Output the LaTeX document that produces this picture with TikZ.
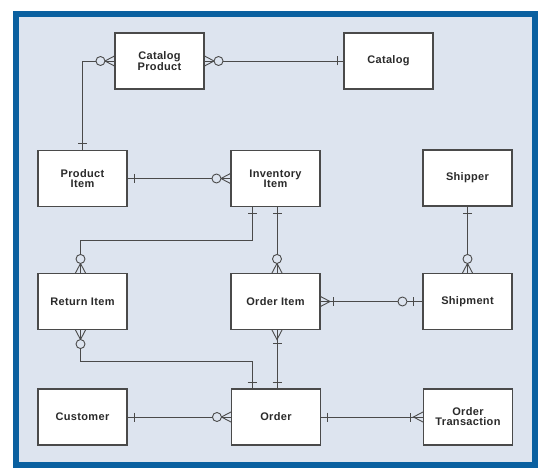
\documentclass[tikz,border=0pt]{standalone}
\usepackage{fontspec}
\setmainfont{Liberation Sans}[LetterSpace=3]
\definecolor{framec}{HTML}{0A60A0}
\definecolor{bgc}{HTML}{DDE4EF}
\definecolor{linec}{HTML}{4A4A4A}
\definecolor{textc}{HTML}{2A2A2A}
\tikzset{
  entity/.style={draw=linec, line width=1.1pt, fill=white, minimum width=89pt, minimum height=56pt, inner sep=0pt, align=center, font=\bfseries\fontsize{11}{10}\selectfont, text=textc},
  conn/.style={draw=linec, line width=0.9pt},
  erone/.pic={\draw[conn] (6.5,-4.5) -- (6.5,4.5);},
  erzmany/.pic={\draw[conn] (0,-5) -- (9.5,0) -- (0,5); \draw[conn, fill=bgc] (14,0) circle[radius=4.5];},
  eromany/.pic={\draw[conn] (0,-5) -- (9.5,0) -- (0,5); \draw[conn] (13,-4.5) -- (13,4.5);},
  erzone/.pic={\draw[conn] (9,-4.5) -- (9,4.5); \draw[conn, fill=bgc] (20,0) circle[radius=4.5];}
}
\begin{document}
\begin{tikzpicture}[x=1pt,y=-1pt]
\useasboundingbox (0,0) rectangle (552,476);
\fill[white] (0,0) rectangle (552,476);
\draw[framec, line width=6pt, fill=bgc] (16,14) rectangle (535,465);

\node[entity] (cp) at (159.5,61) {Catalog\\Product};
\node[entity] (cat) at (388.5,61) {Catalog};
\node[entity] (pi) at (82.5,178.5) {Product\\Item};
\node[entity] (inv) at (275.5,178.5) {Inventory\\Item};
\node[entity] (shipper) at (467.5,178) {Shipper};
\node[entity] (ret) at (82.5,301.5) {Return Item};
\node[entity] (oi) at (275.5,301.5) {Order Item};
\node[entity] (shipment) at (467.5,301.5) {Shipment};
\node[entity] (cust) at (82.5,417) {Customer};
\node[entity] (order) at (276,417) {Order};
\node[entity] (ot) at (468,417) {Order\\Transaction};

\coordinate (invA) at ([xshift=-23.5pt]inv.south);
\coordinate (invB) at ([xshift=1.5pt]inv.south);
\coordinate (retT) at ([xshift=-2pt]ret.north);
\coordinate (retB) at ([xshift=-2pt]ret.south);
\coordinate (oiT) at ([xshift=1.5pt]oi.north);
\coordinate (oiB) at ([xshift=1.5pt]oi.south);
\coordinate (ordA) at ([xshift=-24pt]order.north);
\coordinate (ordB) at ([xshift=1pt]order.north);
\coordinate (bendA) at (0,240);
\coordinate (bendB) at (0,361.5);

\draw[conn] (pi.north) |- (cp.west);
\draw[conn] (cp.east) -- (cat.west);
\draw[conn] (pi.east) -- (inv.west);
\draw[conn] (invA) -- (invA |- bendA) -| (retT);
\draw[conn] (invB) -- (oiT);
\draw[conn] (retB) -- (retB |- bendB) -| (ordA);
\draw[conn] (oiB) -- (ordB);
\draw[conn] (oi.east) -- (shipment.west);
\draw[conn] (shipper.south) -- (shipment.north);
\draw[conn] (cust.east) -- (order.west);
\draw[conn] (order.east) -- (ot.west);

\pic[rotate=90] at (pi.north) {erone};
\pic[rotate=180] at (cp.west) {erzmany};
\pic at (cp.east) {erzmany};
\pic[rotate=180] at (cat.west) {erone};
\pic at (pi.east) {erone};
\pic[rotate=180] at (inv.west) {erzmany};
\pic[rotate=-90] at (invA) {erone};
\pic[rotate=-90] at (invB) {erone};
\pic[rotate=90] at (retT) {erzmany};
\pic[rotate=90] at (oiT) {erzmany};
\pic[rotate=-90] at (retB) {erzmany};
\pic[rotate=90] at (ordA) {erone};
\pic[rotate=90] at (ordB) {erone};
\pic[rotate=-90] at (oiB) {eromany};
\pic at (oi.east) {eromany};
\pic[rotate=180] at (shipment.west) {erzone};
\pic[rotate=-90] at (shipper.south) {erone};
\pic[rotate=90] at (shipment.north) {erzmany};
\pic at (cust.east) {erone};
\pic[rotate=180] at (order.west) {erzmany};
\pic at (order.east) {erone};
\pic[rotate=180] at (ot.west) {eromany};
\end{tikzpicture}
\end{document}
